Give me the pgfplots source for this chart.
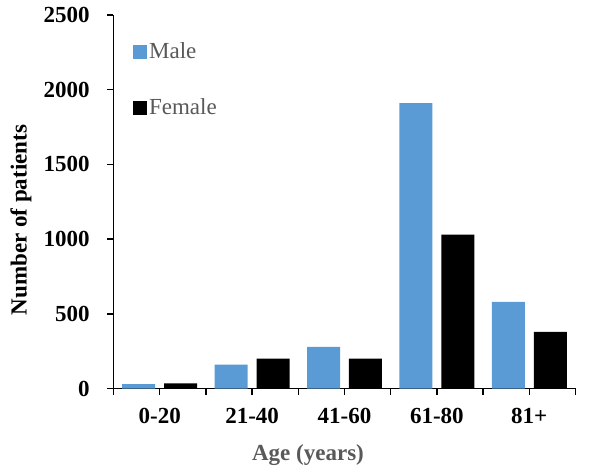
\documentclass[border=0pt]{standalone}
\usepackage{fontspec}
\setmainfont{Liberation Serif}
\usepackage{pgfplots}
\pgfplotsset{compat=1.18}
\definecolor{male}{HTML}{5B9BD5}
\definecolor{lgray}{HTML}{595959}
\newcommand{\bigf}{\fontsize{23bp}{27bp}\selectfont}
\begin{document}
\bigf
\begin{tikzpicture}
\path[use as bounding box] (-113.5bp,-86.4bp) rectangle (488.5bp,388.6bp);
\begin{axis}[
 at={(0,0)}, anchor=south west,
 scale only axis, width=462bp, height=373.6bp,
 xmin=-0.5, xmax=4.5, ymin=0, ymax=2500,
 axis lines*=left, axis line style={line width=1.5bp, -},
 ytick={0,500,...,2500},
 xtick={0,1,2,3,4}, xticklabels={0-20,21-40,41-60,61-80,81+},
 extra x ticks={-0.5,0.5,1.5,2.5,3.5,4.5}, extra x tick labels={},
 tick align=outside, major tick length=6bp, tick style={line width=1.5bp, black},
 /pgf/number format/assume math mode=true,
 /pgf/number format/1000 sep={},
 ticklabel style={font=\bigf\bfseries},
 yticklabel style={xshift=-10bp},
 xticklabel style={yshift=-6bp},
 ylabel={Number of patients},
 ylabel style={font=\bigf\bfseries, rotate=0, at={(axis description cs:-0.2,0.451)}, anchor=center},
 xlabel={Age (years)},
 xlabel style={font=\bigf\bfseries, text=lgray, at={(axis description cs:0.421,-0.178)}, anchor=center},
 ybar, bar width=0.357,
 legend style={draw=none, fill=none, at={(axis description cs:0.042,0.933)}, anchor=north west, font=\bigf, text=lgray, row sep=33bp, inner sep=0pt, nodes={inner sep=2bp}},
 legend cell align=left,
 legend image code/.code={\fill[#1] (0bp,-7bp) rectangle (14bp,7bp);},
]
\addplot[fill=male, draw=none, bar shift=-0.227] coordinates {(0,30) (1,160) (2,280) (3,1910) (4,580)};
\addplot[fill=black, draw=none, bar shift=0.227] coordinates {(0,35) (1,200) (2,200) (3,1030) (4,380)};
\legend{Male,Female}
\end{axis}
\end{tikzpicture}
\end{document}
